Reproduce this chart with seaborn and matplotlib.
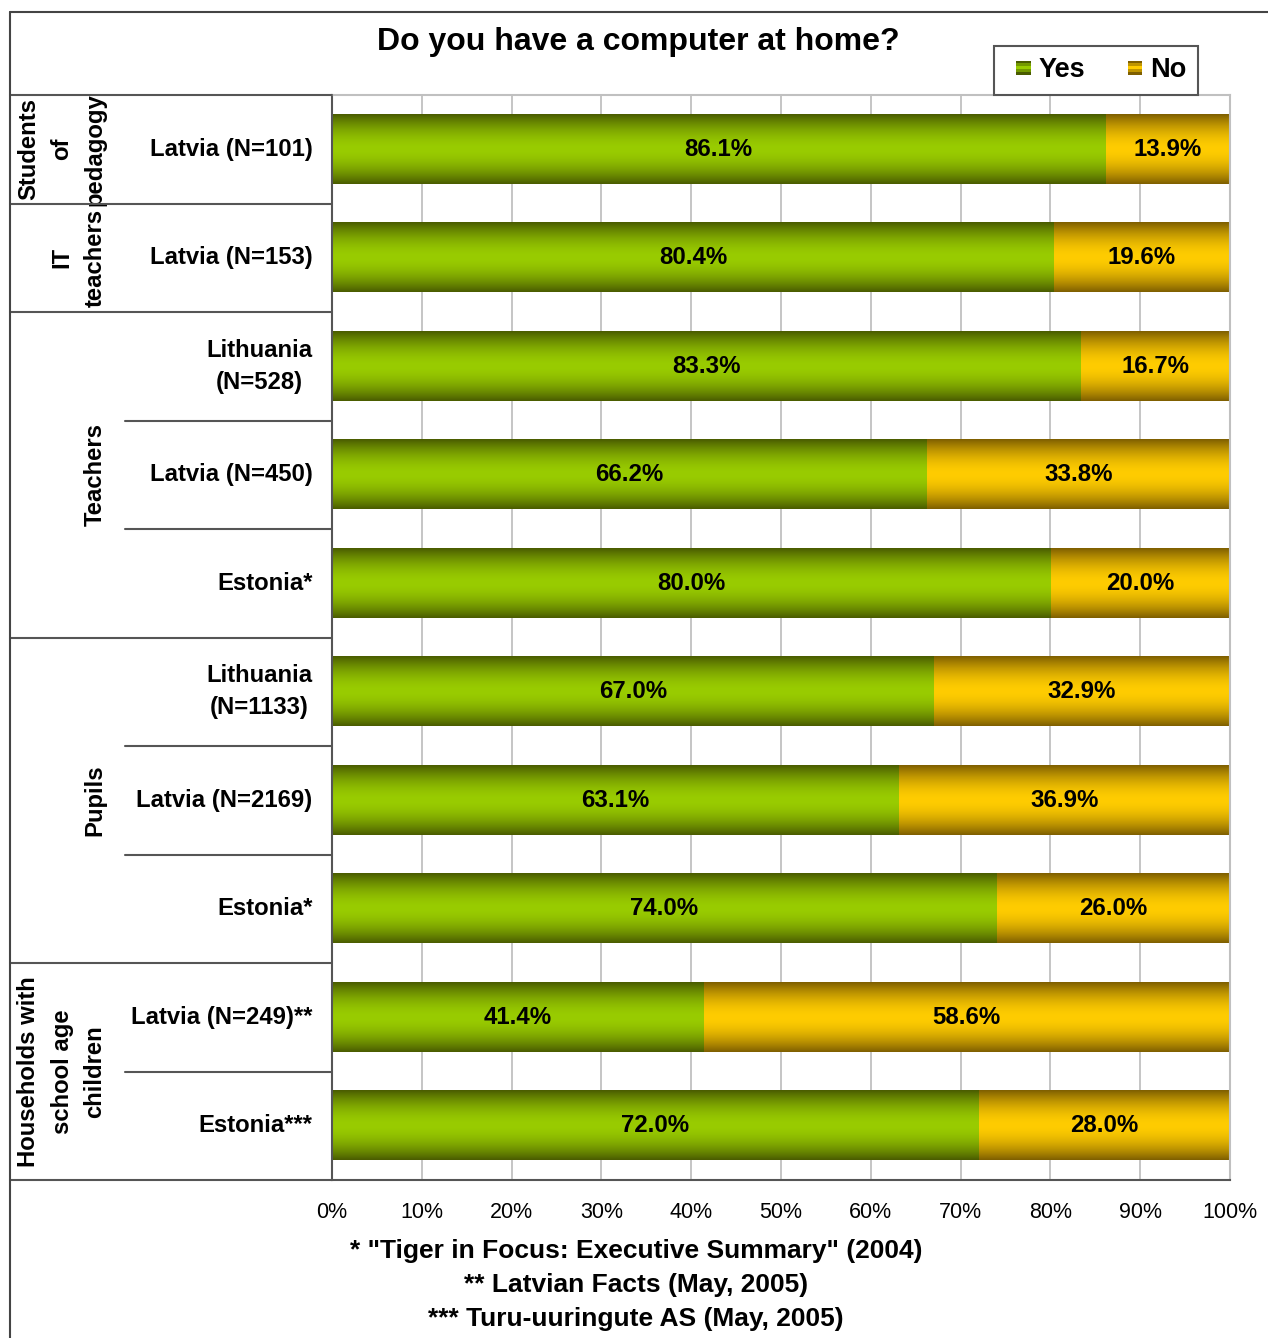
import numpy as np
import pandas as pd
import matplotlib
matplotlib.use("Agg")
import matplotlib.pyplot as plt
import matplotlib.transforms as mtransforms
from matplotlib.lines import Line2D
from matplotlib.patches import Rectangle
from matplotlib.legend_handler import HandlerBase
import seaborn as sns

# ---- data -------------------------------------------------------------
row_labels = ["Latvia (N=101)", "Latvia (N=153)", "Lithuania\n(N=528)",
              "Latvia (N=450)", "Estonia*", "Lithuania\n(N=1133)",
              "Latvia (N=2169)", "Estonia*", "Latvia (N=249)**", "Estonia***"]
yes_pct = [86.1, 80.4, 83.3, 66.2, 80.0, 67.0, 63.1, 74.0, 41.4, 72.0]
no_pct = [13.9, 19.6, 16.7, 33.8, 20.0, 32.9, 36.9, 26.0, 58.6, 28.0]
group_labels = ["Students\nof\npedagogy", "IT\nteachers", "Teachers",
                "Pupils", "Households with\nschool age\nchildren"]
group_sizes = [1, 1, 3, 3, 2]
series_names = ["Yes", "No"]
x_ticks = list(range(0, 101, 10))
title = "Do you have a computer at home?"
footnotes = ['* "Tiger in Focus: Executive Summary" (2004)',
             "** Latvian Facts (May, 2005)",
             "*** Turu-uuringute AS (May, 2005)"]

# ---- style ------------------------------------------------------------
YES_DARK, YES_BRIGHT = "#4a5c00", "#99cc00"
NO_DARK, NO_BRIGHT = "#7f5f00", "#ffcc00"
LINE = "#555555"
GRID = "#c0c0c0"

sns.set_style("white")
plt.rcParams["font.family"] = ["Liberation Sans", "DejaVu Sans"]
plt.rcParams["text.color"] = "black"
plt.rcParams["xtick.color"] = "black"
plt.rcParams["ytick.color"] = "black"

LABEL_FS = 17.2
VALUE_FS = 17.3

W, H = 1268, 1338
fig = plt.figure(figsize=(W / 100, H / 100), dpi=100)
fig.patch.set_facecolor("white")


def fx(px):
    return px / W


def fy(py):
    return 1 - py / H


AX_L, AX_R, AX_T, AX_B = 332, 1230, 95, 1180
ax = fig.add_axes([fx(AX_L), fy(AX_B), (AX_R - AX_L) / W, (AX_B - AX_T) / H])


def ax_x(px):
    return (px - AX_L) / (AX_R - AX_L)


n = len(row_labels)
df = pd.DataFrame({"row": [f"r{i}" for i in range(n)],
                   "yes": yes_pct, "no": no_pct})
df["total"] = df["yes"] + df["no"]

sns.barplot(data=df, x="total", y="row", color=NO_BRIGHT, width=0.64,
            saturation=1, orient="h", errorbar=None, linewidth=0, ax=ax)
sns.barplot(data=df, x="yes", y="row", color=YES_BRIGHT, width=0.64,
            saturation=1, orient="h", errorbar=None, linewidth=0, ax=ax)

xlim = (0, 100)
ylim = ax.get_ylim()


def gradient(dark, bright, steps=128):
    d = np.array(matplotlib.colors.to_rgb(dark))
    b = np.array(matplotlib.colors.to_rgb(bright))
    u = np.linspace(0, 1, steps)
    t = np.abs(2 * u - 1) ** 1.8
    return (b[None, :] * (1 - t[:, None]) + d[None, :] * t[:, None])[:, None, :]


grad_no = gradient(NO_DARK, NO_BRIGHT)
grad_yes = gradient(YES_DARK, YES_BRIGHT)

# fill every bar with a vertical light-in-the-middle gradient
for k, patch in enumerate(ax.patches):
    g, z = (grad_no, 1.1) if k < n else (grad_yes, 1.2)
    x0, y0 = patch.get_x(), patch.get_y()
    w, h = patch.get_width(), patch.get_height()
    ax.imshow(g, extent=(x0, x0 + w, y0 + h, y0), aspect="auto",
              interpolation="bilinear", zorder=z)
    patch.set_facecolor("none")

ax.set_xlim(*xlim)
ax.set_ylim(*ylim)

# value labels
for i in range(n):
    ax.text(yes_pct[i] / 2, i, f"{yes_pct[i]:.1f}%", ha="center", va="center",
            fontsize=VALUE_FS, fontweight="bold", zorder=5)
    ax.text(yes_pct[i] + no_pct[i] / 2, i, f"{no_pct[i]:.1f}%", ha="center",
            va="center", fontsize=VALUE_FS, fontweight="bold", zorder=5)

# axes
ax.set_xlabel("")
ax.set_ylabel("")
ax.set_xticks(x_ticks)
ax.set_xticklabels([f"{v}%" for v in x_ticks], fontsize=15.5)
ax.set_yticks(range(n))
ax.set_yticklabels(row_labels, fontsize=LABEL_FS, fontweight="bold")
for lbl in ax.get_yticklabels():
    lbl.set_multialignment("center")
    lbl.set_linespacing(1.5)
    lbl.set_verticalalignment("center")
ax.tick_params(axis="y", length=0, pad=14)
ax.tick_params(axis="x", length=4, width=1.2, color=LINE, pad=12,
               labelcolor="black")
ax.grid(axis="x", color=GRID, lw=1.3)
ax.grid(axis="y", visible=False)
ax.set_axisbelow(True)
for side in ("left", "bottom"):
    ax.spines[side].set_color(LINE)
    ax.spines[side].set_linewidth(1.5)
for side in ("top", "right"):
    ax.spines[side].set_color(GRID)
    ax.spines[side].set_linewidth(1.5)
    ax.spines[side].set_visible(True)

# outer frame
fig.add_artist(Line2D([fx(10), fx(W)], [fy(12), fy(12)], color="#444444", lw=1.5))
fig.add_artist(Line2D([fx(10), fx(10)], [fy(12), fy(H)], color="#444444", lw=1.5))

# group table at the left
blend = mtransforms.blended_transform_factory(ax.transAxes, ax.transData)
bounds = np.concatenate([[0], np.cumsum(group_sizes)]) - 0.5
for b in bounds:
    ax.plot([ax_x(10), 0], [b, b], color=LINE, lw=1.5, transform=blend,
            clip_on=False, zorder=6)
start = 0
for label, size in zip(group_labels, group_sizes):
    for r in range(start + 1, start + size):
        ax.plot([ax_x(125), 0], [r - 0.5, r - 0.5], color=LINE, lw=1.5,
                transform=blend, clip_on=False, zorder=6)
    yc = start + (size - 1) / 2
    lines = label.split("\n")
    for j, line in enumerate(reversed(lines)):
        ax.text(ax_x(95 - 33 * j), yc, line, rotation=90, ha="center",
                va="center", fontsize=LABEL_FS, fontweight="bold",
                transform=blend)
    start += size

# title
fig.text(fx(638), fy(42), title, ha="center", va="center", fontsize=23,
         fontweight="bold")


# legend with striped square swatches, drawn at the right of the handle box
class StripeHandler(HandlerBase):
    def __init__(self, colors, side):
        super().__init__()
        self.colors = colors
        self.side = side

    def create_artists(self, legend, orig_handle, xdescent, ydescent, width,
                       height, fontsize, trans):
        k = len(self.colors)
        x0 = -xdescent + width - self.side
        y0 = -ydescent + (height - self.side) / 2
        arts = []
        for j, c in enumerate(self.colors):
            arts.append(Rectangle((x0, y0 + self.side * (k - 1 - j) / k),
                                  self.side, self.side / k, facecolor=c,
                                  edgecolor="none", transform=trans))
        return arts


h_yes = Rectangle((0, 0), 1, 1)
h_no = Rectangle((0, 0), 1, 1)
mid_yes = "#739900"
mid_no = "#bf9500"
SW = 10.5  # swatch side in points
leg = fig.legend([h_yes, h_no], series_names,
                 handler_map={h_yes: StripeHandler([YES_DARK, mid_yes, YES_BRIGHT, mid_yes, YES_DARK], SW),
                              h_no: StripeHandler([NO_DARK, mid_no, NO_BRIGHT, mid_no, NO_DARK], SW)},
                 loc="upper right", bbox_to_anchor=(fx(1198), fy(46)),
                 ncol=2, prop={"size": 19.5, "weight": "bold"},
                 handlelength=0.95, handleheight=0.55, handletextpad=0.3,
                 columnspacing=1.15, borderpad=0.42, borderaxespad=0,
                 fancybox=False, framealpha=1, edgecolor=LINE)
leg.get_frame().set_linewidth(1.5)

# footnotes
for k, note in enumerate(footnotes):
    fig.text(fx(636), fy(1251 + 34 * k), note, ha="center", va="center",
             fontsize=19, fontweight="bold")

fig.savefig("out.png", dpi=100, facecolor="white")
